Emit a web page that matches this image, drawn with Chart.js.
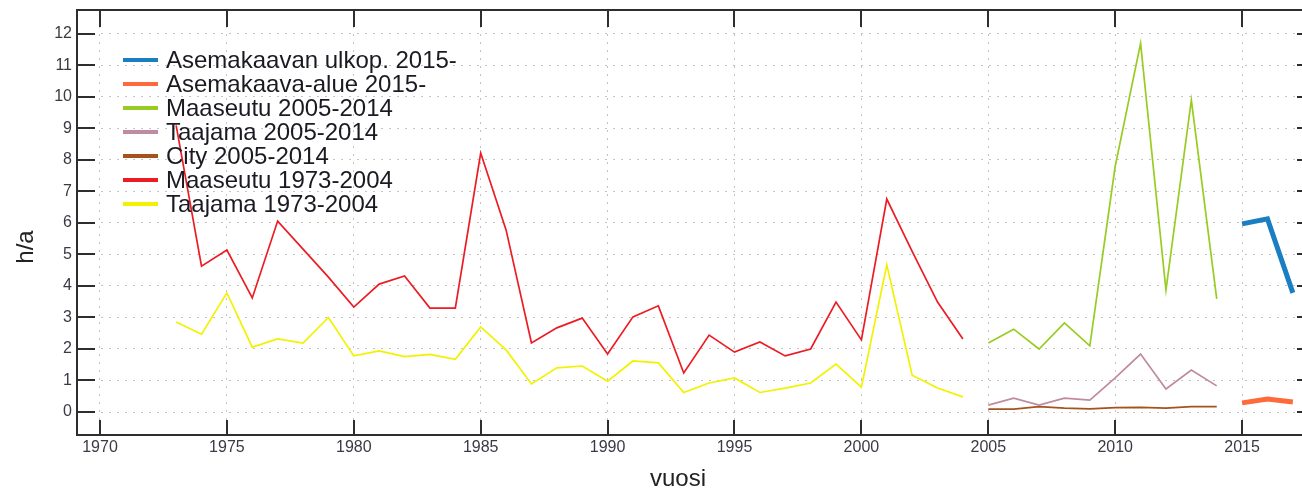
<!DOCTYPE html>
<html><head><meta charset="utf-8">
<script src="https://cdn.jsdelivr.net/npm/chart.js@4/dist/chart.umd.min.js"></script>
<style>html,body{margin:0;padding:0;background:#fff;overflow:hidden}canvas{display:block}</style>
</head><body>
<canvas id="c" width="1302" height="491"></canvas>
<script>
// ---- data ----
const yearsOld = [1973,1974,1975,1976,1977,1978,1979,1980,1981,1982,1983,1984,1985,1986,1987,1988,1989,1990,1991,1992,1993,1994,1995,1996,1997,1998,1999,2000,2001,2002,2003,2004];
const maaseutuOld = [9.1,4.63,5.14,3.62,6.06,5.17,4.28,3.33,4.06,4.32,3.30,3.30,8.22,5.78,2.19,2.67,2.98,1.84,3.02,3.37,1.24,2.44,1.90,2.22,1.78,2.0,3.49,2.29,6.76,5.1,3.49,2.32];
const taajamaOld = [2.86,2.47,3.78,2.06,2.32,2.19,3.0,1.78,1.94,1.76,1.83,1.67,2.70,1.97,0.89,1.40,1.46,0.98,1.62,1.56,0.62,0.92,1.08,0.62,0.76,0.92,1.52,0.79,4.67,1.17,0.76,0.48];
const yearsMid = [2005,2006,2007,2008,2009,2010,2011,2012,2013,2014];
const maaseutuMid = [2.19,2.63,2.0,2.83,2.10,7.8,11.7,3.87,9.9,3.59];
const taajamaMid = [0.22,0.44,0.22,0.44,0.38,1.08,1.84,0.73,1.33,0.83];
const cityMid = [0.09,0.09,0.17,0.12,0.10,0.14,0.15,0.12,0.17,0.17];
const yearsNew = [2015,2016,2017];
const ulkopNew = [5.97,6.13,3.78];
const alueNew = [0.29,0.41,0.32];
const xTicks = [1970,1975,1980,1985,1990,1995,2000,2005,2010,2015];
const yTicks = [0,1,2,3,4,5,6,7,8,9,10,11,12];
const seriesLabels = ['Asemakaavan ulkop. 2015-','Asemakaava-alue 2015-','Maaseutu 2005-2014','Taajama 2005-2014','City 2005-2014','Maaseutu 1973-2004','Taajama 1973-2004'];
const xTitle = 'vuosi';
const yTitle = 'h/a';

const colors = ['#1a7fc2','#ff6a3a','#99cc22','#c08aa0','#a5521c','#ec1c24','#f2f200'];
const widths = [5,5,1.7,1.7,1.7,1.7,1.7];
const xs = [yearsNew,yearsNew,yearsMid,yearsMid,yearsMid,yearsOld,yearsOld];
const ys = [ulkopNew,alueNew,maaseutuMid,taajamaMid,cityMid,maaseutuOld,taajamaOld];

const FONT = "'Liberation Sans', Arial, sans-serif";
const datasets = seriesLabels.map((l,i)=>({
  label:l,
  data: xs[i].map((x,j)=>({x:x,y:ys[i][j]})),
  borderColor: colors[i], backgroundColor: colors[i],
  borderWidth: widths[i], pointRadius:0, tension:0, fill:false,
  borderCapStyle: 'butt', borderJoinStyle: 'miter'
}));

const decor = {
  id:'decor',
  afterDraw(chart){
    const ctx = chart.ctx, a = chart.chartArea, sx = chart.scales.x, sy = chart.scales.y;
    ctx.save();
    ctx.strokeStyle = '#2e2e2e'; ctx.lineWidth = 2; ctx.setLineDash([]);
    // axis box (left, bottom, top)
    ctx.beginPath();
    ctx.moveTo(a.right+2, a.top); ctx.lineTo(a.left, a.top); ctx.lineTo(a.left, a.bottom); ctx.lineTo(a.right+2, a.bottom);
    ctx.stroke();
    // inner ticks
    ctx.beginPath();
    xTicks.forEach(v=>{
      const p = Math.round(sx.getPixelForValue(v));
      ctx.moveTo(p, a.bottom); ctx.lineTo(p, a.bottom-15);
      ctx.moveTo(p, a.top); ctx.lineTo(p, a.top+17);
    });
    yTicks.forEach(v=>{
      const p = Math.round(sy.getPixelForValue(v));
      ctx.moveTo(a.left, p); ctx.lineTo(a.left+18, p);
      ctx.moveTo(a.right, p); ctx.lineTo(a.right-5, p);
    });
    ctx.stroke();
    // axis titles
    ctx.fillStyle = '#222';
    ctx.font = '24px ' + FONT;
    ctx.textAlign = 'center'; ctx.textBaseline = 'middle';
    ctx.fillText(xTitle, 678, 479);
    ctx.save();
    ctx.translate(26, 247); ctx.rotate(-Math.PI/2);
    ctx.fillText(yTitle, 0, 0);
    ctx.restore();
    // legend
    ctx.font = '24px ' + FONT;
    ctx.textBaseline = 'middle'; ctx.textAlign = 'left';
    seriesLabels.forEach((l,i)=>{
      const y = 60 + i*24;
      ctx.strokeStyle = colors[i]; ctx.lineWidth = 4;
      ctx.beginPath(); ctx.moveTo(123,y); ctx.lineTo(158,y); ctx.stroke();
      ctx.fillStyle = '#1a1a22';
      ctx.fillText(l, 166, y+1);
    });
    ctx.restore();
  }
};

new Chart(document.getElementById('c'), {
  type:'line',
  data:{datasets},
  options:{
    responsive:false, animation:false, devicePixelRatio:1,
    layout:{padding:{top:10,right:0,left:0,bottom:0}},
    plugins:{legend:{display:false}, tooltip:{enabled:false}},
    scales:{
      x:{
        type:'linear', min:1969.094, max:2017.36,
        afterBuildTicks: s=>{ s.ticks = xTicks.map(v=>({value:v})); },
        afterFit: s=>{ s.height = 56; s.paddingLeft = 0; s.paddingRight = 0; },
        grid:{color:'#c4c4c4', lineWidth:1, drawTicks:false},
        border:{display:false, dash:[2,6]},
        ticks:{padding:3, color:'#3a3a44', font:{family:FONT,size:16}, callback:v=>String(v), maxRotation:0, autoSkip:false},
        title:{display:false}
      },
      y:{
        type:'linear', min:-0.73, max:12.76,
        afterBuildTicks: s=>{ s.ticks = yTicks.map(v=>({value:v})); },
        afterFit: s=>{ s.width = 77; s.paddingTop = 0; s.paddingBottom = 0; },
        grid:{color:'#c4c4c4', lineWidth:1, drawTicks:false},
        border:{display:false, dash:[2,6]},
        ticks:{padding:5, color:'#3a3a44', font:{family:FONT,size:16}, callback:v=>String(v), autoSkip:false},
        title:{display:false}
      }
    }
  },
  plugins:[decor]
});
</script>
</body></html>
